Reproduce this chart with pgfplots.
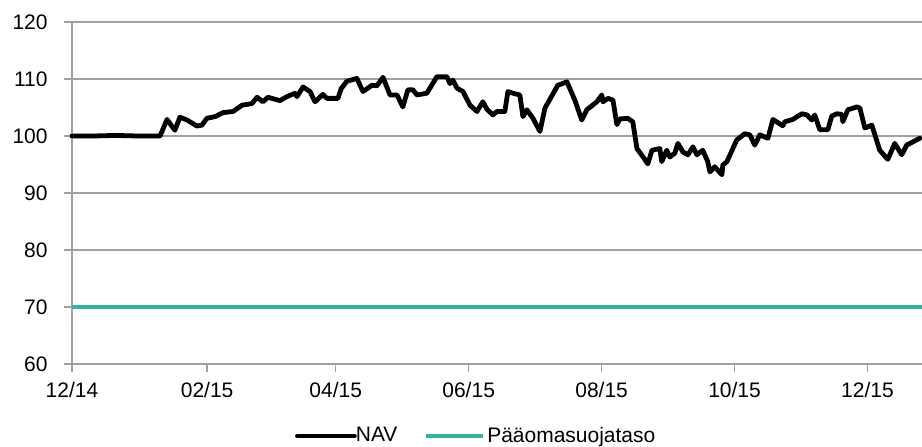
\documentclass[border=0pt]{standalone}
\usepackage{pgfplots}
\pgfplotsset{compat=1.18}
\usepackage{fontspec}
\setmainfont{Liberation Sans}
\definecolor{gridgray}{RGB}{160,160,160}
\definecolor{teal2}{RGB}{56,178,160}
\pgfplotstableread{
x y
0 100
10 100
20 100.1
30 100
40.4 100
43.6 102.9
47.2 101.0
49.5 103.3
52.8 102.8
57.3 101.75
59.6 101.9
61.9 103.1
65.6 103.4
69.3 104.1
73.9 104.3
78.0 105.4
82.6 105.7
84.9 106.8
87.6 106.0
89.9 106.8
95.4 106.2
98.6 106.9
102.3 107.5
103.2 106.9
106.0 108.6
109.2 107.8
111.5 106.0
115.1 107.3
117.0 106.6
122.0 106.6
123.5 108.3
126.1 109.6
130.7 110.1
133.5 107.8
135.8 108.4
137.6 108.9
139.9 108.8
142.7 110.3
145.9 107.2
149.1 107.2
151.8 105.1
154.1 108.1
156.4 108.1
158.3 107.2
162.8 107.5
167.4 110.4
172.0 110.4
173.4 109.2
174.8 109.8
176.6 108.4
179.4 107.8
182.6 105.4
185.8 104.3
188.5 106.0
190.4 104.7
193.1 103.7
195.0 104.3
198.6 104.3
200.0 107.8
202.3 107.5
205.5 107.2
206.9 103.4
208.7 104.6
211.5 103.1
214.7 100.8
217.0 104.9
222.9 108.9
227.1 109.5
230.7 106.3
233.9 102.8
236.2 104.6
240.8 106.0
243.1 107.2
243.6 106.0
245.9 106.6
248.2 106.3
250.0 102.0
251.4 103.0
255.0 103.1
257.3 102.5
259.2 97.8
261.9 96.4
264.2 95.1
266.1 97.5
269.7 97.8
270.6 95.5
272.0 96.7
272.9 97.5
274.3 96.3
276.6 97.0
278.0 98.7
280.3 97.2
282.6 96.7
284.9 98.1
286.7 96.7
289.4 97.5
291.7 95.5
292.7 93.7
294.9 94.6
298.2 93.2
298.6 94.9
300.5 95.5
305.0 99.3
308.7 100.4
311.0 100.2
313.3 98.4
315.6 100.2
319.3 99.6
321.6 102.9
326.1 101.8
327.1 102.5
330.7 102.9
334.9 103.9
337.2 103.7
339.4 102.8
340.8 103.7
343.1 101.1
346.8 101.1
348.6 103.5
350.9 103.9
353.2 103.8
353.7 102.5
356.0 104.6
360.1 105.1
361.5 104.9
363.8 101.4
367.0 101.9
370.6 97.5
374.3 95.9
377.5 98.7
380.7 96.7
383.0 98.4
389.0 99.6
}\navdata
\begin{document}
\begin{tikzpicture}
\begin{axis}[
  name=ax,
  scale only axis,
  width=425pt, height=171pt,
  xmin=0, xmax=390, ymin=60, ymax=120,
  axis x line*=bottom, axis y line*=left,
  axis line style={gridgray, line width=0.75pt, -},
  xtick={0,62,121,182,243,304,365},
  xticklabels={12/14,02/15,04/15,06/15,08/15,10/15,12/15},
  ytick={60,70,...,120},
  ymajorgrids, major grid style={gridgray, line width=0.75pt},
  tick align=outside,
  major tick length=4pt,
  tick style={gridgray, line width=0.75pt},
  /pgf/number format/assume math mode=true,
  tick label style={font=\fontsize{10.5}{12}\selectfont, text=black, inner sep=0pt},
  yticklabel style={anchor=east, xshift=-8pt},
  xticklabel style={anchor=north, yshift=-5pt},
  legend style={draw=none, at={(0.2624,-0.2105)}, anchor=west,
    font=\fontsize{10.5}{12}\selectfont, legend columns=2,
    /tikz/every even column/.append style={column sep=11pt},
    inner sep=0pt, outer sep=0pt,
    legend cell align=left},
  legend image code/.code={\draw[#1] (0pt,0pt) -- (28.5pt,0pt);},
  clip=false,
]
\addplot[black, line width=2.4pt, line join=round, line cap=round] table[x=x,y=y] {\navdata};
\addlegendentry{\hspace{-2.5pt}NAV}
\addplot[teal2, line width=2.4pt] coordinates {(0,70) (390,70)};
\addlegendentry{\hspace{-1pt}Pääomasuojataso}
\end{axis}
\pgfresetboundingbox
\path ([xshift=-36pt,yshift=-41.5pt]ax.south west) rectangle ([yshift=11pt]ax.north east);
\end{tikzpicture}
\end{document}
